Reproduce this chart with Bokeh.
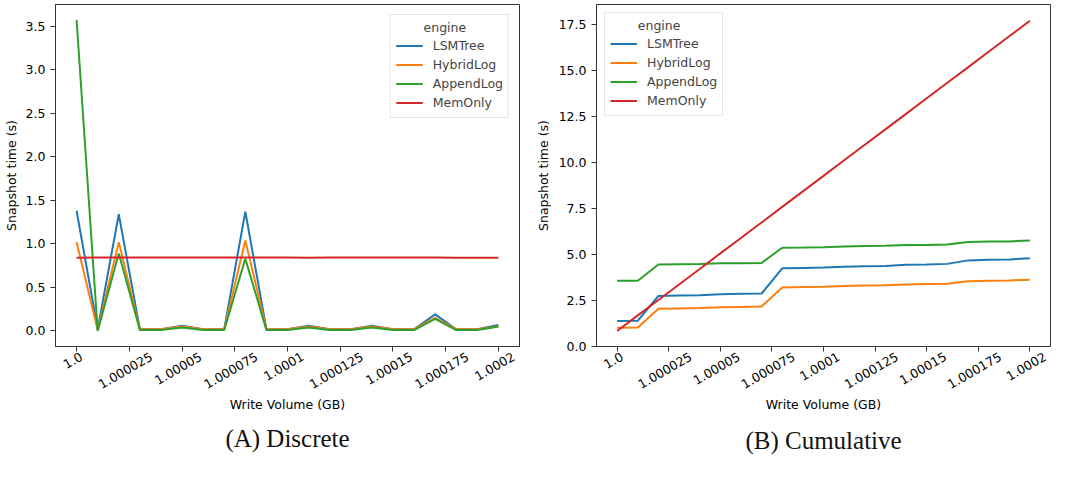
import math
from bokeh.plotting import figure
from bokeh.layouts import row
from bokeh.models import (Range1d, FixedTicker, PrintfTickFormatter, Legend, LegendItem,
                          LinearAxis, Title)
from bokeh.embed import file_html
from bokeh.resources import INLINE

# ---------------- data ----------------
volume_gb = [1.0, 1.00001, 1.00002, 1.00003, 1.00004, 1.00005, 1.00006, 1.00007,
             1.00008, 1.00009, 1.0001, 1.00011, 1.00012, 1.00013, 1.00014, 1.00015,
             1.00016, 1.00017, 1.00018, 1.00019, 1.0002]

engines = ["LSMTree", "HybridLog", "AppendLog", "MemOnly"]
colors = ["#1f77b4", "#ff7f0e", "#2ca02c", "#d62728"]

lsm_discrete = [1.38, 0.02, 1.34, 0.02, 0.02, 0.06, 0.02, 0.02, 1.37, 0.02, 0.02,
                0.06, 0.02, 0.02, 0.06, 0.02, 0.02, 0.19, 0.02, 0.02, 0.07]
hybrid_discrete = [1.02, 0.01, 1.02, 0.02, 0.02, 0.05, 0.02, 0.02, 1.04, 0.02, 0.02,
                   0.05, 0.02, 0.02, 0.05, 0.02, 0.02, 0.15, 0.02, 0.02, 0.05]
append_discrete = [3.57, 0.0, 0.89, 0.01, 0.01, 0.04, 0.01, 0.01, 0.83, 0.01, 0.01,
                   0.04, 0.01, 0.01, 0.04, 0.01, 0.01, 0.14, 0.01, 0.01, 0.05]
mem_discrete = [0.84, 0.843, 0.843, 0.843, 0.844, 0.844, 0.844, 0.844, 0.843, 0.843, 0.843,
                0.842, 0.844, 0.843, 0.843, 0.843, 0.843, 0.843, 0.842, 0.842, 0.842]

lsm_cumulative = [1.38, 1.40, 2.75, 2.77, 2.79, 2.84, 2.86, 2.88, 4.25, 4.27, 4.29,
                  4.34, 4.36, 4.38, 4.44, 4.46, 4.49, 4.68, 4.71, 4.73, 4.80]
hybrid_cumulative = [1.02, 1.03, 2.05, 2.07, 2.09, 2.13, 2.15, 2.17, 3.21, 3.23, 3.25,
                     3.29, 3.31, 3.33, 3.37, 3.39, 3.41, 3.55, 3.57, 3.59, 3.63]
append_cumulative = [3.57, 3.57, 4.46, 4.47, 4.48, 4.52, 4.53, 4.54, 5.37, 5.38, 5.40,
                     5.44, 5.46, 5.47, 5.51, 5.52, 5.54, 5.68, 5.70, 5.71, 5.76]
mem_cumulative = [0.84, 1.69, 2.53, 3.37, 4.21, 5.06, 5.90, 6.74, 7.59, 8.43, 9.27,
                  10.12, 10.96, 11.80, 12.64, 13.49, 14.33, 15.17, 16.02, 16.86, 17.70]

x_ticks = [1.0, 1.000025, 1.00005, 1.000075, 1.0001, 1.000125, 1.00015, 1.000175, 1.0002]
x_tick_labels = ["1.0", "1.000025", "1.00005", "1.000075", "1.0001", "1.000125",
                 "1.00015", "1.000175", "1.0002"]
y_ticks_discrete = [0.0, 0.5, 1.0, 1.5, 2.0, 2.5, 3.0, 3.5]
y_ticks_cumulative = [0.0, 2.5, 5.0, 7.5, 10.0, 12.5, 15.0, 17.5]

# ---------------- style ----------------
TEXT_FONT = "DejaVu Sans"
FS_PX = 12.5
FS = "12.5px"
EDGE = "#333333"
ANGLE = math.pi / 6
X_START, X_END = 0.99999, 1.00021


def label_shift_px(s):
    # bokeh anchors a rotated label's top-right corner at the tick; shift it so the
    # label ends up centred under its tick (matplotlib style)
    w = sum(0.318 if ch == "." else 0.636 for ch in s) * FS_PX
    h = 1.16 * FS_PX
    return (w * math.cos(ANGLE) - h * math.sin(ANGLE)) / 2


def make_panel(series, width, height, b_left, b_right, b_top, frame_h, y_range, y_ticks,
               ylabel_standoff, legend_loc, legend_margin, caption, caption_offset,
               caption_standoff):
    frame_w = width - b_left - b_right
    p = figure(width=width, height=height, output_backend="svg", toolbar_location=None,
               min_border_left=b_left, min_border_right=b_right,
               min_border_top=b_top, min_border_bottom=height - b_top - frame_h,
               x_range=Range1d(X_START, X_END), y_range=Range1d(*y_range))
    p.xgrid.visible = False
    p.ygrid.visible = False
    p.outline_line_color = EDGE
    p.outline_line_alpha = 1.0
    p.outline_line_width = 1

    items = []
    for name, col, ys in zip(engines, colors, series):
        r = p.line(volume_gb, ys, line_color=col, line_width=2)
        items.append(LegendItem(label=name, renderers=[r]))

    # main x axis: ticks only
    xa = p.xaxis[0]
    xa.ticker = FixedTicker(ticks=x_ticks)
    xa.major_tick_out = 5
    xa.major_tick_in = 0
    xa.minor_tick_line_color = None
    xa.axis_line_color = EDGE
    xa.major_tick_line_color = EDGE
    xa.major_label_text_color = None
    xa.major_label_text_font_size = "1px"
    xa.major_label_standoff = 0

    # second x axis carrying the rotated, centred tick labels and the axis title
    k = (X_END - X_START) / frame_w
    label_pos = [t + label_shift_px(s) * k for t, s in zip(x_ticks, x_tick_labels)]
    lab = LinearAxis(ticker=FixedTicker(ticks=label_pos),
                     major_label_overrides=dict(zip(label_pos, x_tick_labels)),
                     major_label_orientation=ANGLE,
                     axis_line_color=None, major_tick_line_color=None,
                     minor_tick_line_color=None, major_tick_in=0, major_tick_out=0,
                     major_label_standoff=4,
                     major_label_text_font=TEXT_FONT, major_label_text_font_size=FS,
                     major_label_text_color="black",
                     axis_label="Write Volume (GB)", axis_label_standoff=1,
                     axis_label_text_font=TEXT_FONT, axis_label_text_font_size=FS,
                     axis_label_text_font_style="normal", axis_label_text_color="black")
    p.add_layout(lab, "below")

    ya = p.yaxis[0]
    ya.ticker = FixedTicker(ticks=y_ticks)
    ya.formatter = PrintfTickFormatter(format="%.1f")
    ya.axis_label = "Snapshot time (s)"
    ya.axis_label_standoff = ylabel_standoff
    ya.major_label_standoff = 5
    ya.major_tick_out = 5
    ya.major_tick_in = 0
    ya.minor_tick_line_color = None
    ya.axis_line_color = EDGE
    ya.major_tick_line_color = EDGE
    ya.major_label_text_font = TEXT_FONT
    ya.major_label_text_font_size = FS
    ya.major_label_text_color = "black"
    ya.axis_label_text_font = TEXT_FONT
    ya.axis_label_text_font_size = FS
    ya.axis_label_text_font_style = "normal"
    ya.axis_label_text_color = "black"

    legend = Legend(items=items, location=legend_loc,
                    title="\u00a0" * 7 + "engine")
    legend.title_text_font = TEXT_FONT
    legend.title_text_font_size = FS
    legend.title_text_font_style = "normal"
    legend.title_standoff = 1
    legend.label_text_font = TEXT_FONT
    legend.label_text_font_size = FS
    legend.glyph_width = 27
    legend.glyph_height = 19
    legend.label_height = 19
    legend.spacing = 0
    legend.padding = 5
    legend.label_standoff = 10
    legend.margin = legend_margin
    legend.border_line_color = "#cccccc"
    legend.border_line_width = 1
    legend.background_fill_alpha = 0.8
    p.add_layout(legend)

    p.add_layout(Title(text=caption, align="center", offset=caption_offset,
                       text_font="Liberation Serif", text_font_size="25px",
                       text_font_style="normal", text_color="#111111",
                       standoff=caption_standoff), "below")
    return p


p1 = make_panel([lsm_discrete, hybrid_discrete, append_discrete, mem_discrete],
                532, 463, 50, 13, 0, 349, (-0.1785, 3.7485), y_ticks_discrete, 4,
                "top_right", 10, "(A) Discrete", -23, 15)
p2 = make_panel([lsm_cumulative, hybrid_cumulative, append_cumulative, mem_cumulative],
                522, 463, 60, 4, 4, 342, (0.0, 18.585), y_ticks_cumulative, 5,
                "top_left", 8, "(B) Cumulative", -22, 18)

layout = row(p1, p2, spacing=0)
open("out.html", "w").write(file_html(layout, INLINE))
